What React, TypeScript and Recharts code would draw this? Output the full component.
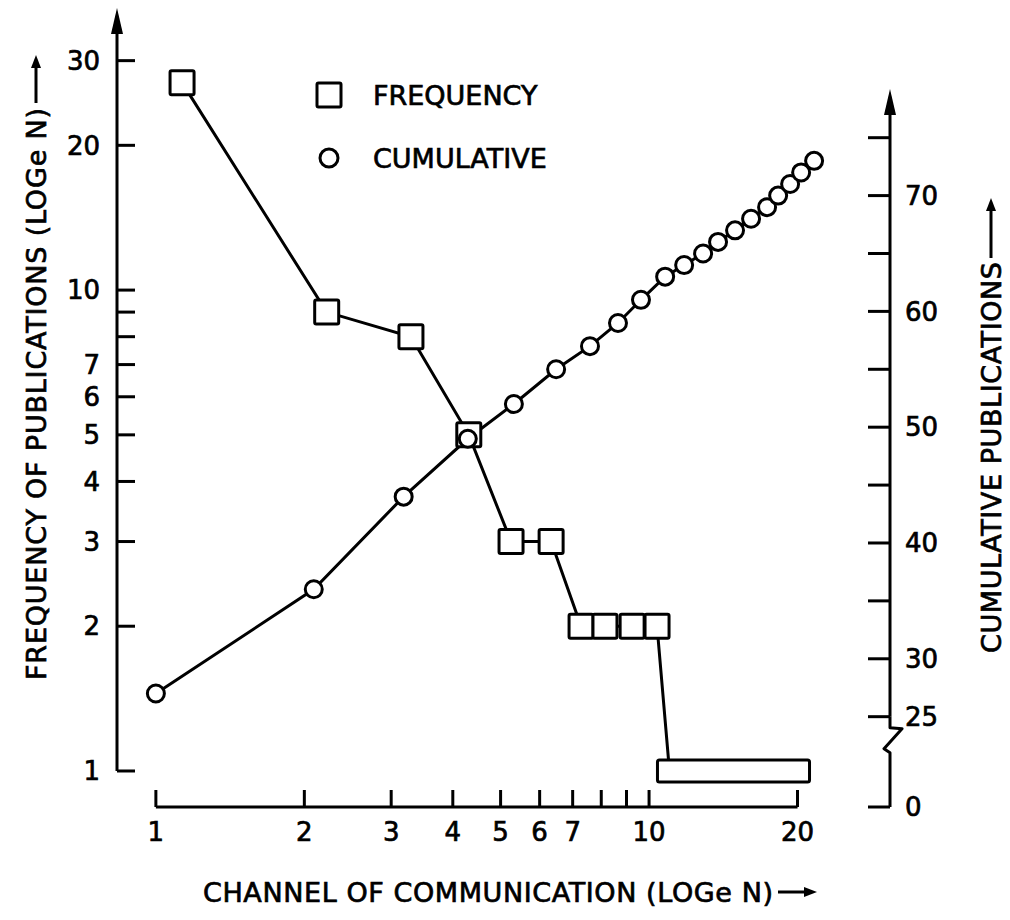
import React from 'react';
import { ComposedChart, Line, XAxis, YAxis, ReferenceLine, Legend, Label } from 'recharts';

const FONT = '"DejaVu Sans", Verdana, sans-serif';
const INK = '#000';

// frequency of publications per channel (squares). The ten channels with one
// publication each are boxed together in the original drawing.
const freqChannel = [1.13, 2.22, 3.29, 4.31, 5.25, 6.33, 7.28, 8.14, 9.24, 10.38, 11, 12, 13, 14, 15, 16, 17, 18, 19, 20];
const freqCount = [27, 9, 8, 5, 3, 3, 2, 2, 2, 2, 1, 1, 1, 1, 1, 1, 1, 1, 1, 1];

// cumulative publications (circles), read on the right-hand axis
const cumChannel = [1.0, 2.09, 3.18, 4.29, 5.32, 6.48, 7.59, 8.65, 9.63, 10.78, 11.78, 12.87, 13.8, 14.94, 16.1, 17.35, 18.27, 19.32, 20.34, 21.61];
const cumCount = [27, 36, 44, 49, 52, 55, 57, 59, 61, 63, 64, 65, 66, 67, 68, 69, 70, 71, 72, 73];

const xTicks = [1, 2, 3, 4, 5, 6, 7, 8, 9, 10, 20];
const xTickLabels = ['1', '2', '3', '4', '5', '6', '7', '', '', '10', '20'];
const freqTicks = [1, 2, 3, 4, 5, 6, 7, 8, 9, 10, 20, 30];
const freqTickLabels = ['1', '2', '3', '4', '5', '6', '7', '', '', '10', '20', '30'];

// axis extents: both log axes start a little before their first tick
const X_DOMAIN: [number, number] = [0.834, 30.8];
const FREQ_DOMAIN: [number, number] = [0.8416, 38.6];
const CUM_DOMAIN: [number, number] = [17.2, 86.2]; // bottom of the broken axis stands for 0
const CUM_BREAK = 25;
const CUM_AXIS_TOP = 79.2;
const cumTicks = [CUM_DOMAIN[0], 25, 30, 35, 40, 45, 50, 55, 60, 65, 70, 75];
const cumTickLabels = ['0', '25', '30', '', '40', '', '50', '', '60', '', '70', ''];

const legendOrder = ['freq', 'cum'];

const freqData = freqChannel.map((x, i) => ({ x, freq: freqCount[i] }));
const cumData = cumChannel.map((x, i) => ({ x, cum: cumCount[i] }));

const SQ = 24;
const SW = 3;
const TEXT_STROKE = 0.7; // the lettering in the original is a bit heavier than DejaVu

const FreqMark = (props: any) => {
  const { cx, cy, index, value, points } = props;
  if (cx == null || cy == null) return <g />;
  const low = Math.min(...freqCount);
  if (value === low && Array.isArray(points)) {
    const group = points.filter((p: any) => p.value === low);
    if (points.indexOf(group[0]) !== index) return <g />;
    const left = group[0].x - SQ / 2;
    const right = group[group.length - 1].x + SQ / 2;
    return <rect x={left} y={cy - SQ / 2 + 1} width={right - left} height={SQ - 2} rx={2} fill="#fff" stroke={INK} strokeWidth={SW} />;
  }
  return <rect x={cx - SQ / 2} y={cy - SQ / 2} width={SQ} height={SQ} rx={1.5} fill="#fff" stroke={INK} strokeWidth={SW} />;
};

const CumMark = (props: any) => {
  const { cx, cy } = props;
  if (cx == null || cy == null) return <g />;
  return <circle cx={cx} cy={cy} r={8.5} fill="#fff" stroke={INK} strokeWidth={SW} />;
};

// axis line ending in an arrow head at (x2, y2)
const ArrowAxis = (props: any) => {
  const { x1, y1, x2, y2 } = props;
  return (
    <g>
      <line x1={x1} y1={y1} x2={x2} y2={y2 + 12} stroke={INK} strokeWidth={SW} />
      <polygon points={`${x2},${y2} ${x2 - 6},${y2 + 26} ${x2 + 6},${y2 + 26}`} fill={INK} />
    </g>
  );
};

// lower part of the right axis with the zig-zag break just under 25
const BrokenAxis = (props: any) => {
  const { x1, y1, y2 } = props;
  const d = `M${x1},${y1} V${y2 + 36} L${x1 - 6},${y2 + 32} L${x1 + 12},${y2 + 12} L${x1},${y2 + 11} V${y2}`;
  return <path d={d} fill="none" stroke={INK} strokeWidth={SW} strokeLinejoin="round" />;
};

const PlainLine = (props: any) => {
  const { x1, y1, x2, y2 } = props;
  return <line x1={x1} y1={y1} x2={x2} y2={y2} stroke={INK} strokeWidth={SW} />;
};

function ArrowTitle({ cx, cy, text, length, angle, gap, arrow }: any) {
  const s = length / 2 + gap;
  const tip = s + arrow;
  return (
    <g transform={`translate(${cx},${cy}) rotate(${angle})`}>
      <text x={0} y={0} textAnchor="middle" dominantBaseline="central" textLength={length} lengthAdjust="spacing"
        fontFamily={FONT} fontSize={27} fill={INK} stroke={INK} strokeWidth={TEXT_STROKE}>{text}</text>
      <line x1={s} y1={0} x2={tip - 10} y2={0} stroke={INK} strokeWidth={SW} />
      <polygon points={`${tip},0 ${tip - 13},-5 ${tip - 13},5`} fill={INK} />
    </g>
  );
}

const LeftTitle = ({ viewBox }: any) => (
  <ArrowTitle cx={viewBox.x + 36} cy={viewBox.y + 386} angle={-90} length={572} gap={5} arrow={48}
    text="FREQUENCY OF PUBLICATIONS (LOGe N)" />
);
const RightTitle = ({ viewBox }: any) => (
  <ArrowTitle cx={viewBox.x + 101} cy={viewBox.y + 449.5} angle={-90} length={391} gap={4} arrow={60}
    text="CUMULATIVE PUBLICATIONS" />
);
const BottomTitle = ({ viewBox }: any) => (
  <ArrowTitle cx={viewBox.x + 371} cy={viewBox.y + 85} angle={0} length={570} gap={5} arrow={39}
    text="CHANNEL OF COMMUNICATION (LOGe N)" />
);

const LegendBox = ({ payload }: any) => {
  const items = [...(payload || [])].sort(
    (a: any, b: any) => legendOrder.indexOf(a.dataKey) - legendOrder.indexOf(b.dataKey),
  );
  return (
    <div style={{ fontFamily: FONT, fontSize: 27, color: INK, WebkitTextStroke: `${TEXT_STROKE}px ${INK}` } as any}>
      {items.map((p: any) => (
        <div key={p.value} style={{ display: 'flex', alignItems: 'center', height: 63 }}>
          <svg width={68} height={30}>
            {p.dataKey === 'freq'
              ? <rect x={12} y={3} width={SQ} height={SQ} rx={1.5} fill="#fff" stroke={INK} strokeWidth={SW} />
              : <circle cx={24} cy={15} r={9} fill="#fff" stroke={INK} strokeWidth={SW} />}
          </svg>
          <span style={{ lineHeight: 1 }}>{p.value}</span>
        </div>
      ))}
    </div>
  );
};

const tickStyle = { fill: INK, fontSize: 26, fontFamily: FONT, stroke: INK, strokeWidth: TEXT_STROKE };
const tickLineStyle = { stroke: INK, strokeWidth: SW };

export default function App() {
  return (
    <div style={{ position: 'absolute', left: 0, top: 0, background: '#fff' }}>
      <ComposedChart width={1010} height={920} margin={{ top: 8, right: 0, bottom: 0, left: 0 }}>
        <XAxis type="number" dataKey="x" scale="log" domain={X_DOMAIN} allowDataOverflow
          ticks={xTicks} interval={0} tickFormatter={(v: number) => xTickLabels[xTicks.indexOf(v)] ?? ''}
          axisLine={false} tickLine={tickLineStyle} tickSize={-17} tickMargin={33} tick={tickStyle} height={113}>
          <Label content={BottomTitle} />
        </XAxis>
        <YAxis yAxisId="freq" type="number" scale="log" domain={FREQ_DOMAIN} allowDataOverflow
          ticks={freqTicks} interval={0} tickFormatter={(v: number) => freqTickLabels[freqTicks.indexOf(v)] ?? ''}
          axisLine={false} tickLine={tickLineStyle} tickSize={-18} tickMargin={35} tick={tickStyle} width={117}>
          <Label content={LeftTitle} />
        </YAxis>
        <YAxis yAxisId="cum" orientation="right" type="number" domain={CUM_DOMAIN} allowDataOverflow
          ticks={cumTicks} interval={0} tickFormatter={(v: number) => cumTickLabels[cumTicks.indexOf(v)] ?? ''}
          axisLine={false} tickLine={tickLineStyle} tickSize={-22} tickMargin={37} tick={tickStyle} width={120}>
          <Label content={RightTitle} />
        </YAxis>

        <ReferenceLine yAxisId="freq" ifOverflow="visible" shape={PlainLine}
          segment={[{ x: xTicks[0], y: FREQ_DOMAIN[0] }, { x: xTicks[xTicks.length - 1], y: FREQ_DOMAIN[0] }]} />
        <ReferenceLine yAxisId="freq" ifOverflow="visible" shape={ArrowAxis}
          segment={[{ x: X_DOMAIN[0], y: freqTicks[0] }, { x: X_DOMAIN[0], y: FREQ_DOMAIN[1] }]} />
        <ReferenceLine yAxisId="cum" ifOverflow="visible" shape={BrokenAxis}
          segment={[{ x: X_DOMAIN[1], y: CUM_DOMAIN[0] }, { x: X_DOMAIN[1], y: CUM_BREAK }]} />
        <ReferenceLine yAxisId="cum" ifOverflow="visible" shape={ArrowAxis}
          segment={[{ x: X_DOMAIN[1], y: CUM_BREAK }, { x: X_DOMAIN[1], y: CUM_AXIS_TOP }]} />

        <Legend layout="horizontal" verticalAlign="middle" align="center" content={LegendBox}
          wrapperStyle={{ left: 305, top: 63.5, width: 'auto', height: 'auto' }} />

        <Line yAxisId="freq" data={freqData} dataKey="freq" name="FREQUENCY" type="linear" stroke={INK}
          strokeWidth={SW} dot={FreqMark} activeDot={false} isAnimationActive={false} />
        <Line yAxisId="cum" data={cumData} dataKey="cum" name="CUMULATIVE" type="linear" stroke={INK}
          strokeWidth={SW} dot={CumMark} activeDot={false} isAnimationActive={false} />
      </ComposedChart>
    </div>
  );
}
